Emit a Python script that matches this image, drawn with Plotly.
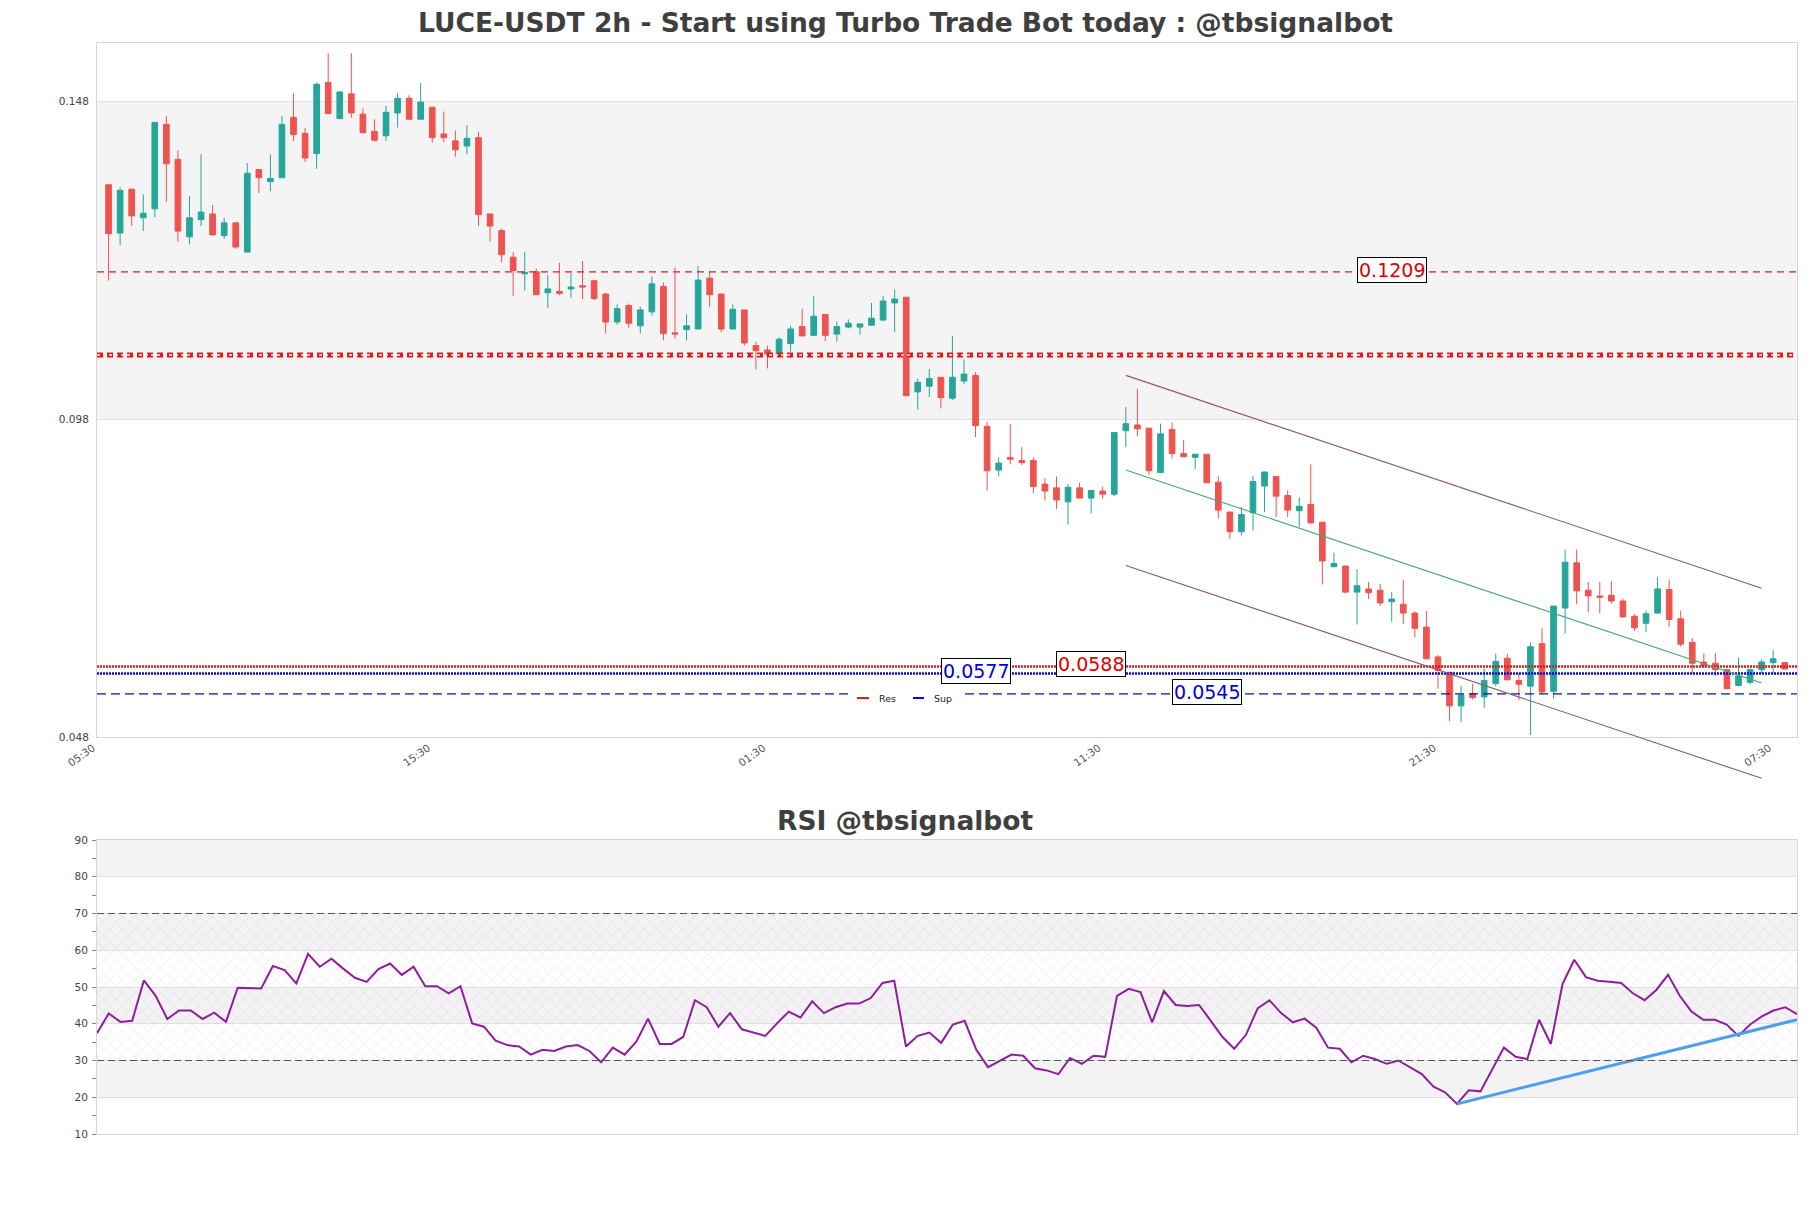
import plotly.graph_objects as go

# ---------------- data ----------------
open_ = [0.1346, 0.1270, 0.1339, 0.1294, 0.1308, 0.1441, 0.1386, 0.1264, 0.1291, 0.1300,
         0.1266, 0.1286, 0.1240, 0.1370, 0.1351, 0.1357, 0.1452, 0.1427, 0.1395, 0.1507,
         0.1450, 0.1489, 0.1457, 0.1430, 0.1423, 0.1459, 0.1482, 0.1449, 0.1468, 0.1426,
         0.1415, 0.1407, 0.1420, 0.1300, 0.1274, 0.1232, 0.1206, 0.1209, 0.1176, 0.1178,
         0.1182, 0.1187, 0.1195, 0.1174, 0.1130, 0.1156, 0.1124, 0.1146, 0.1186, 0.1113,
         0.1118, 0.1119, 0.1199, 0.1174, 0.1119, 0.1149, 0.1093, 0.1086, 0.1078, 0.1096,
         0.1123, 0.1109, 0.1142, 0.1111, 0.1122, 0.1122, 0.1125, 0.1133, 0.1160, 0.1169,
         0.1020, 0.1029, 0.1043, 0.1010, 0.1037, 0.1046, 0.0966, 0.0897, 0.0917, 0.0912,
         0.0912, 0.0875, 0.0869, 0.0847, 0.0869, 0.0853, 0.0864, 0.0859, 0.0959, 0.0968,
         0.0963, 0.0893, 0.0961, 0.0923, 0.0917, 0.0922, 0.0878, 0.0831, 0.0800, 0.0830,
         0.0872, 0.0887, 0.0857, 0.0833, 0.0843, 0.0815, 0.0745, 0.0746, 0.0705, 0.0710,
         0.0708, 0.0690, 0.0686, 0.0672, 0.0650, 0.0603, 0.0579, 0.0526, 0.0545, 0.0540,
         0.0561, 0.0601, 0.0566, 0.0557, 0.0624, 0.0549, 0.0680, 0.0751, 0.0708, 0.0699,
         0.0700, 0.0691, 0.0667, 0.0656, 0.0672, 0.0709, 0.0663, 0.0626, 0.0595, 0.0593,
         0.0583, 0.0558, 0.0563, 0.0583, 0.0594, 0.0594]
high = [0.1346, 0.1342, 0.1339, 0.1331, 0.1444, 0.1454, 0.1400, 0.1328, 0.1394, 0.1314,
        0.1294, 0.1287, 0.1380, 0.1370, 0.1394, 0.1454, 0.1490, 0.1435, 0.1507, 0.1553,
        0.1493, 0.1553, 0.1466, 0.1449, 0.1470, 0.1490, 0.1487, 0.1506, 0.1468, 0.1461,
        0.1431, 0.1440, 0.1429, 0.1301, 0.1277, 0.1240, 0.1240, 0.1214, 0.1204, 0.1223,
        0.1207, 0.1226, 0.1196, 0.1176, 0.1158, 0.1159, 0.1154, 0.1202, 0.1192, 0.1216,
        0.1142, 0.1218, 0.1210, 0.1175, 0.1158, 0.1149, 0.1099, 0.1093, 0.1106, 0.1124,
        0.1151, 0.1171, 0.1142, 0.1131, 0.1134, 0.1128, 0.1160, 0.1171, 0.1181, 0.1169,
        0.1041, 0.1056, 0.1043, 0.1108, 0.1071, 0.1051, 0.0973, 0.0917, 0.0969, 0.0933,
        0.0917, 0.0884, 0.0887, 0.0875, 0.0877, 0.0865, 0.0871, 0.0957, 0.0996, 0.1025,
        0.0963, 0.0970, 0.0972, 0.0944, 0.0922, 0.0922, 0.0887, 0.0831, 0.0839, 0.0888,
        0.0894, 0.0887, 0.0865, 0.0854, 0.0906, 0.0815, 0.0767, 0.0747, 0.0741, 0.0721,
        0.0718, 0.0705, 0.0724, 0.0675, 0.0675, 0.0606, 0.0579, 0.0557, 0.0561, 0.0585,
        0.0608, 0.0608, 0.0578, 0.0626, 0.0648, 0.0683, 0.0772, 0.0772, 0.0721, 0.0721,
        0.0722, 0.0695, 0.0670, 0.0676, 0.0729, 0.0725, 0.0676, 0.0633, 0.0609, 0.0609,
        0.0583, 0.0602, 0.0584, 0.0599, 0.0614, 0.0594]
low = [0.1195, 0.1251, 0.1281, 0.1273, 0.1295, 0.1319, 0.1256, 0.1252, 0.1281, 0.1267,
       0.1261, 0.1245, 0.1240, 0.1333, 0.1336, 0.1357, 0.1415, 0.1382, 0.1371, 0.1458,
       0.1450, 0.1451, 0.1428, 0.1414, 0.1415, 0.1436, 0.1449, 0.1449, 0.1412, 0.1413,
       0.1390, 0.1394, 0.1281, 0.1256, 0.1224, 0.1171, 0.1180, 0.1173, 0.1152, 0.1172,
       0.1168, 0.1166, 0.1165, 0.1112, 0.1126, 0.1121, 0.1112, 0.1140, 0.1101, 0.1104,
       0.1101, 0.1119, 0.1154, 0.1114, 0.1119, 0.1093, 0.1055, 0.1057, 0.1078, 0.1083,
       0.1108, 0.1109, 0.1100, 0.1099, 0.1120, 0.1110, 0.1124, 0.1132, 0.1114, 0.1014,
       0.0992, 0.1012, 0.0994, 0.1007, 0.1032, 0.0949, 0.0865, 0.0887, 0.0906, 0.0905,
       0.0861, 0.0849, 0.0836, 0.0811, 0.0853, 0.0829, 0.0852, 0.0856, 0.0933, 0.0950,
       0.0889, 0.0892, 0.0915, 0.0918, 0.0899, 0.0877, 0.0821, 0.0789, 0.0794, 0.0802,
       0.0831, 0.0823, 0.0823, 0.0807, 0.0812, 0.0717, 0.0744, 0.0703, 0.0654, 0.0694,
       0.0683, 0.0658, 0.0655, 0.0634, 0.0600, 0.0553, 0.0502, 0.0501, 0.0536, 0.0523,
       0.0557, 0.0566, 0.0535, 0.0480, 0.0545, 0.0537, 0.0640, 0.0686, 0.0673, 0.0672,
       0.0687, 0.0665, 0.0644, 0.0642, 0.0671, 0.0650, 0.0619, 0.0577, 0.0586, 0.0573,
       0.0553, 0.0557, 0.0560, 0.0577, 0.0577, 0.0584]
close = [0.1269, 0.1337, 0.1297, 0.1301, 0.1444, 0.1379, 0.1273, 0.1294, 0.1303, 0.1267,
         0.1286, 0.1248, 0.1364, 0.1357, 0.1356, 0.1441, 0.1425, 0.1388, 0.1504, 0.1458,
         0.1492, 0.1459, 0.1428, 0.1416, 0.1460, 0.1482, 0.1449, 0.1476, 0.1420, 0.1420,
         0.1401, 0.1419, 0.1299, 0.1281, 0.1236, 0.1211, 0.1208, 0.1173, 0.1182, 0.1175,
         0.1185, 0.1185, 0.1167, 0.1130, 0.1151, 0.1128, 0.1149, 0.1190, 0.1112, 0.1111,
         0.1124, 0.1196, 0.1173, 0.1119, 0.1150, 0.1097, 0.1085, 0.1078, 0.1103, 0.1119,
         0.1108, 0.1139, 0.1109, 0.1123, 0.1128, 0.1127, 0.1136, 0.1163, 0.1166, 0.1014,
         0.1035, 0.1041, 0.1011, 0.1043, 0.1048, 0.0967, 0.0896, 0.0908, 0.0914, 0.0909,
         0.0871, 0.0864, 0.0850, 0.0870, 0.0853, 0.0865, 0.0859, 0.0956, 0.0970, 0.0962,
         0.0896, 0.0954, 0.0923, 0.0918, 0.0922, 0.0877, 0.0834, 0.0800, 0.0827, 0.0879,
         0.0894, 0.0856, 0.0834, 0.0840, 0.0814, 0.0754, 0.0750, 0.0705, 0.0715, 0.0704,
         0.0688, 0.0694, 0.0672, 0.0648, 0.0600, 0.0582, 0.0526, 0.0543, 0.0539, 0.0566,
         0.0596, 0.0567, 0.0560, 0.0619, 0.0548, 0.0683, 0.0752, 0.0707, 0.0699, 0.0697,
         0.0691, 0.0666, 0.0649, 0.0671, 0.0710, 0.0662, 0.0623, 0.0593, 0.0589, 0.0583,
         0.0553, 0.0573, 0.0583, 0.0595, 0.0600, 0.0584]
rsi = [37.4, 42.8, 40.5, 40.8, 51.8, 47.6, 41.3, 43.6, 43.6, 41.3,
       43.0, 40.5, 49.8, 49.6, 49.6, 55.7, 54.6, 51.0, 59.0, 55.5,
       57.7, 55.0, 52.5, 51.4, 54.9, 56.4, 53.3, 55.5, 50.2, 50.2,
       48.3, 50.2, 40.1, 39.2, 35.4, 34.2, 33.8, 31.6, 32.9, 32.6,
       33.8, 34.2, 32.6, 29.5, 33.5, 31.6, 35.1, 41.4, 34.5, 34.5,
       36.4, 46.4, 44.5, 39.2, 42.9, 38.5, 37.6, 36.7, 40.1, 43.3,
       41.7, 46.1, 42.9, 44.5, 45.5, 45.5, 47.0, 51.1, 51.7, 33.8,
       36.7, 37.6, 34.8, 39.8, 40.8, 32.9, 28.2, 30.0, 31.6, 31.3,
       27.9, 27.3, 26.3, 30.7, 29.1, 31.3, 31.0, 47.6, 49.5, 48.6,
       40.4, 48.9, 45.1, 44.8, 45.1, 40.8, 36.4, 33.2, 37.0, 44.2,
       46.4, 42.9, 40.4, 41.4, 38.9, 33.5, 33.2, 29.5, 31.3, 30.4,
       29.1, 30.0, 28.2, 26.3, 22.9, 21.3, 18.2, 21.9, 21.6, 27.6,
       33.5, 31.0, 30.4, 41.1, 34.5, 50.8, 57.4, 52.7, 51.7, 51.4,
       51.1, 48.3, 46.4, 49.2, 53.3, 47.6, 43.3, 41.1, 41.1, 39.8,
       36.7, 39.8, 42.0, 43.6, 44.5, 42.6]

x_tick_labels = ["05:30", "15:30", "01:30", "11:30", "21:30", "07:30"]
x_tick_pos = [-1, 28, 57, 86, 115, 144]
y_tick_vals = [0.0477, 0.0977, 0.1477]
y_tick_text = ["0.048", "0.098", "0.148"]

res_dashed = 0.1209
res_pattern = 0.1078
res_dotted = 0.0588
sup_dotted = 0.0577
sup_dashed = 0.0545
label_pos = {"0.1209": 111, "0.0588": 85, "0.0577": 75, "0.0545": 95}

channel_x = [88, 143]
channel_upper = [0.1046, 0.0711]
channel_mid = [0.0897, 0.0562]
channel_lower = [0.0747, 0.0412]

rsi_trend_x = [116, 145]
rsi_trend_y = [18.2, 41.1]

# ---------------- geometry ----------------
W, H = 1811, 1208
ML, MR, MT, MB = 97, 14, 43, 74
PH = H - MT - MB
MAIN_DOM = [(H - MB - 737) / PH, 1.0]
RSI_DOM = [0.0, (H - MB - 840) / PH]
XMIN, XMAX = -1, 146.06
YMIN, YMAX = 0.0477, 0.1569

GREEN = "#26a69a"
RED = "#ef5350"
LRED = "#e31a1c"
LBLUE = "#0a0ad0"
FONT = "DejaVu Sans"


def px(v):
    return (v - XMIN) / (XMAX - XMIN)


def py(v):
    return MAIN_DOM[0] + (v - YMIN) / (YMAX - YMIN) * (MAIN_DOM[1] - MAIN_DOM[0])


def ppx(xf):
    return (xf - ML) / (W - ML - MR)


def ppy(yf):
    return (H - MB - yf) / PH


idx = list(range(len(open_)))

fig = go.Figure()
fig.add_trace(go.Candlestick(
    x=idx, open=open_, high=high, low=low, close=close,
    increasing=dict(line=dict(color=GREEN, width=1), fillcolor=GREEN),
    decreasing=dict(line=dict(color=RED, width=1), fillcolor=RED),
    whiskerwidth=0, showlegend=False, xaxis="x", yaxis="y", hoverinfo="skip"))

# RSI hatch region 30-70
fig.add_trace(go.Scatter(
    x=[0, 145, 145, 0, 0], y=[30, 30, 70, 70, 30], mode="lines",
    fill="toself", fillcolor="rgba(255,255,255,0)",
    fillpattern=dict(shape="x", size=9, solidity=0.09,
                     fgcolor="rgba(200,140,215,0.8)", bgcolor="rgba(255,255,255,0)"),
    line=dict(width=0), showlegend=False, xaxis="x2", yaxis="y2", hoverinfo="skip"))

fig.add_trace(go.Scatter(
    x=idx, y=rsi, mode="lines", line=dict(color="#8e1f9c", width=2),
    showlegend=False, xaxis="x2", yaxis="y2", hoverinfo="skip"))

fig.add_trace(go.Scatter(
    x=rsi_trend_x, y=rsi_trend_y, mode="lines", line=dict(color="#4aa0f0", width=3),
    showlegend=False, xaxis="x2", yaxis="y2", hoverinfo="skip"))

shapes = []
shapes.append(dict(type="rect", xref="x domain", yref="y", x0=0, x1=1,
                   y0=y_tick_vals[1], y1=y_tick_vals[2], fillcolor="#f4f4f4",
                   line=dict(width=0), layer="below"))
for lo_, hi_ in [(80, 90), (60, 70), (40, 50), (20, 30)]:
    shapes.append(dict(type="rect", xref="x2 domain", yref="y2", x0=0, x1=1,
                       y0=lo_, y1=hi_, fillcolor="#f3f3f3",
                       line=dict(width=0), layer="below"))
for lvl in [70, 30]:
    shapes.append(dict(type="line", xref="x2 domain", yref="y2", x0=0, x1=1,
                       y0=lvl, y1=lvl, line=dict(color="#555555", width=1.2,
                                                 dash="7px,4px"), layer="above"))


def hline(y, color, width, dash):
    shapes.append(dict(type="line", xref="x domain", yref="y", x0=0, x1=1,
                       y0=y, y1=y, line=dict(color=color, width=width, dash=dash),
                       layer="above"))


hline(res_dashed, LRED, 1.2, "7px,5px")
hline(res_pattern, LRED, 5, "6px,4px")
hline(res_pattern, "#f4f4f4", 1.5, "3px,3px")
hline(res_dotted, LRED, 2.5, "2px,1px")
hline(sup_dotted, LBLUE, 2.5, "2px,1px")
hline(sup_dashed, LBLUE, 1.2, "9px,5px")

for ys, col in [(channel_upper, "#8e5a66"), (channel_lower, "#8e5a66"),
                (channel_mid, "#3fae74")]:
    shapes.append(dict(type="line", xref="paper", yref="paper",
                       x0=px(channel_x[0]), x1=px(channel_x[1]),
                       y0=py(ys[0]), y1=py(ys[1]),
                       line=dict(color=col, width=1.1), layer="above"))

# legend (manual)
shapes.append(dict(type="rect", xref="paper", yref="paper",
                   x0=ppx(850), x1=ppx(962), y0=ppy(706), y1=ppy(689),
                   fillcolor="white", line=dict(width=0), layer="above"))
shapes.append(dict(type="line", xref="paper", yref="paper",
                   x0=ppx(857), x1=ppx(869), y0=ppy(698), y1=ppy(698),
                   line=dict(color=LRED, width=2), layer="above"))
shapes.append(dict(type="line", xref="paper", yref="paper",
                   x0=ppx(913), x1=ppx(924), y0=ppy(698), y1=ppy(698),
                   line=dict(color=LBLUE, width=2), layer="above"))

annotations = []
annotations.append(dict(text="<b>LUCE-USDT 2h - Start using Turbo Trade Bot today : @tbsignalbot</b>",
                        xref="paper", yref="paper", x=ppx(905.5), y=ppy(23),
                        xanchor="center", yanchor="middle", showarrow=False,
                        font=dict(family=FONT, size=26.5, color="#3f3f3f")))
annotations.append(dict(text="<b>RSI @tbsignalbot</b>",
                        xref="paper", yref="paper", x=ppx(905.5), y=ppy(820),
                        xanchor="center", yanchor="middle", showarrow=False,
                        font=dict(family=FONT, size=26.5, color="#3f3f3f")))
annotations.append(dict(text="Res", xref="paper", yref="paper", x=ppx(877), y=ppy(698),
                        xanchor="left", yanchor="middle", showarrow=False,
                        font=dict(family=FONT, size=9.5, color="#222")))
annotations.append(dict(text="Sup", xref="paper", yref="paper", x=ppx(932), y=ppy(698),
                        xanchor="left", yanchor="middle", showarrow=False,
                        font=dict(family=FONT, size=9.5, color="#222")))

for txt, yv, col in [("0.1209", res_dashed, "#e00000"), ("0.0588", res_dotted, "#e00000"),
                     ("0.0577", sup_dotted, "#0000dd"), ("0.0545", sup_dashed, "#0000dd")]:
    annotations.append(dict(text=txt, xref="x", yref="y", x=label_pos[txt], y=yv,
                            xanchor="center", yanchor="middle", showarrow=False, yshift=2,
                            bgcolor="white", bordercolor="black", borderwidth=1, borderpad=1,
                            font=dict(family=FONT, size=19, color=col)))

axis_line = "#d6d6d6"
fig.update_layout(
    width=W, height=H, autosize=False,
    margin=dict(l=ML, r=MR, t=MT, b=MB),
    paper_bgcolor="white", plot_bgcolor="white",
    font=dict(family=FONT, color="#444"),
    showlegend=False,
    shapes=shapes, annotations=annotations,
    xaxis=dict(domain=[0, 1], range=[XMIN, XMAX], anchor="y",
               tickmode="array", tickvals=x_tick_pos, ticktext=x_tick_labels,
               tickangle=-35, tickfont=dict(size=10.5, color="#555"), ticklabelshift=-4,
               showgrid=False, zeroline=False, rangeslider=dict(visible=False),
               showline=True, linecolor=axis_line, mirror=True, ticks=""),
    yaxis=dict(domain=MAIN_DOM, range=[YMIN, YMAX], anchor="x",
               tickmode="array", tickvals=y_tick_vals, ticktext=y_tick_text,
               tickfont=dict(size=10.5, color="#444"), ticklabelstandoff=5,
               showgrid=True, gridcolor="#e0e0e0", gridwidth=1, zeroline=False,
               showline=True, linecolor=axis_line, mirror=True, ticks=""),
    xaxis2=dict(domain=[0, 1], range=[0, 145], anchor="y2",
                showticklabels=False, showgrid=False, zeroline=False,
                showline=True, linecolor=axis_line, mirror=True, ticks=""),
    yaxis2=dict(domain=RSI_DOM, range=[10, 90], anchor="x2",
                tickmode="linear", tick0=10, dtick=10,
                tickfont=dict(size=10.5, color="#444"), ticklabelstandoff=2,
                ticks="outside", ticklen=4, tickcolor="#888",
                minor=dict(ticks="outside", ticklen=4, tickcolor="#888", dtick=5, tick0=5,
                           showgrid=False),
                showgrid=True, gridcolor="#e0e0e0", gridwidth=1, zeroline=False,
                showline=True, linecolor=axis_line, mirror=True),
)

fig.write_html("out.html")
